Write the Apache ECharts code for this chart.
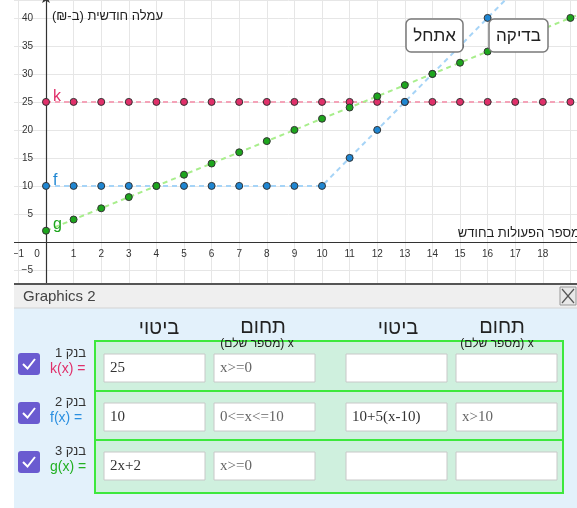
<!DOCTYPE html>
<html>
<head>
<meta charset="utf-8">
<script src="https://cdn.jsdelivr.net/npm/echarts@6/dist/echarts.min.js"></script>
<style>
  html, body { margin: 0; padding: 0; background: #fff; }
  #chart { width: 577px; height: 508px; }
</style>
</head>
<body>
<div id="chart"></div>
<script>
// values
const xs = [0, 1, 2, 3, 4, 5, 6, 7, 8, 9, 10, 11, 12, 13, 14, 15, 16, 17, 18, 19, 20]
const kVals = [25, 25, 25, 25, 25, 25, 25, 25, 25, 25, 25, 25, 25, 25, 25, 25, 25, 25, 25, 25, 25]
const fVals = [10, 10, 10, 10, 10, 10, 10, 10, 10, 10, 10, 15, 20, 25, 30, 35, 40, 45]
const gVals = [2, 4, 6, 8, 10, 12, 14, 16, 18, 20, 22, 24, 26, 28, 30, 32, 34, 36, 38, 40, 42]

const yTicks = [-5, 5, 10, 15, 20, 25, 30, 35, 40]
const xTicks = [-1, 0, 1, 2, 3, 4, 5, 6, 7, 8, 9, 10, 11, 12, 13, 14, 15, 16, 17, 18]

const rows = [
  { bank: 'בנק 1', fn: 'k(x) =', color: '#e0306a', cells: ['25', 'x>=0', '', ''] },
  { bank: 'בנק 2', fn: 'f(x) =', color: '#2a8fe0', cells: ['10', '0<=x<=10', '10+5(x-10)', 'x>10'] },
  { bank: 'בנק 3', fn: 'g(x) =', color: '#22b022', cells: ['2x+2', 'x>=0', '', ''] }
]

const RLE = '\u202B', PDF = '\u202C'
const SANS = '"Liberation Sans", "DejaVu Sans", sans-serif'
const SERIF = '"Liberation Serif", "DejaVu Serif", serif'

const isTick = (list, v) => list.some(t => Math.abs(t - Number(v)) < 1e-6)
const fmtNum = v => {
  const n = Math.round(Number(v))
  return n < 0 ? '−' + (-n) : String(n)
}

const toPairs = (vals, name, color, offY) => vals.map((v, i) => {
  const item = { value: [xs[i], v] }
  if (i === 0) {
    item.label = {
      show: true, formatter: name, position: 'right', distance: 3,
      offset: [0, offY], color: color, fontSize: 16, fontFamily: SANS
    }
  }
  return item
})

const fnSeries = (name, vals, lineColor, dotColor, offY) => ({
  type: 'line',
  name: name,
  data: toPairs(vals, name, dotColor, offY),
  symbol: 'circle',
  symbolSize: 7,
  lineStyle: { color: lineColor, width: 2, type: [5, 4] },
  itemStyle: { color: dotColor, borderColor: '#333', borderWidth: 1 },
  emphasis: { disabled: true },
  z: 3
})

// bottom panel built from plain graphic elements
const txt = (x, y, text, font, fill, align, z) => ({
  type: 'text', x: x, y: y, z: z || 110,
  style: { text: text, font: font, fill: fill, textAlign: align || 'left', align: align || 'left', textVerticalAlign: 'middle', verticalAlign: 'middle' }
})
const box = (x, y, w, h, fill, stroke, lw, r, z) => ({
  type: 'rect', z: z || 105,
  shape: { x: x, y: y, width: w, height: h, r: r || 0 },
  style: { fill: fill, stroke: stroke || null, lineWidth: lw || 0 }
})

const graphics = []
// white page margin left of the app
graphics.push(box(0, 0, 14, 508, '#fff', null, 0, 0, 100))
// buttons
graphics.push(box(406, 19, 57, 33, '#fff', '#7a7a7a', 1.5, 5, 100))
graphics.push(txt(434.5, 36, 'אתחל', '17px ' + SANS, '#222', 'center', 101))
graphics.push(box(489, 19, 59, 33, '#fff', '#7a7a7a', 1.5, 5, 100))
graphics.push(txt(518.5, 36, 'בדיקה', '17px ' + SANS, '#222', 'center', 101))
// axis titles
graphics.push(txt(52, 16, RLE + 'עמלה חודשית (ב-₪)' + PDF, '13px ' + SANS, '#222', 'left', 101))
graphics.push(txt(580, 233, 'מספר הפעולות בחודש', '13px ' + SANS, '#222', 'right', 101))

// Graphics 2 panel
graphics.push(box(14, 283, 563, 225, '#e3f1fb'))
graphics.push(box(14, 283, 563, 2, '#555'))
graphics.push(box(14, 285, 563, 23, '#efefef'))
graphics.push(box(14, 307.5, 563, 1, '#d4d4d4'))
graphics.push(txt(23, 297, 'Graphics 2', '15px ' + SANS, '#444'))
graphics.push(box(560, 287, 16, 18, '#e8e8e8', '#999', 1))
graphics.push({
  type: 'polyline', z: 110,
  shape: { points: [[562, 289], [574, 303]] }, style: { stroke: '#555', lineWidth: 1.2 }
})
graphics.push({
  type: 'polyline', z: 110,
  shape: { points: [[574, 289], [562, 303]] }, style: { stroke: '#555', lineWidth: 1.2 }
})

// column headers
const sub = RLE + 'x (מספר שלם)' + PDF
graphics.push(txt(159, 328, 'ביטוי', '20px ' + SANS, '#222', 'center'))
graphics.push(txt(263, 327, 'תחום', '20px ' + SANS, '#222', 'center'))
graphics.push(txt(398, 328, 'ביטוי', '20px ' + SANS, '#222', 'center'))
graphics.push(txt(502, 327, 'תחום', '20px ' + SANS, '#222', 'center'))

// green table
graphics.push(box(95, 341, 468, 152, '#cff0de', '#3de83d', 2, 0, 106))
graphics.push(box(95, 390, 468, 2, '#3de83d', null, 0, 0, 107))
graphics.push(box(95, 439, 468, 2, '#3de83d', null, 0, 0, 107))
graphics.push(txt(257, 344, sub, '12px ' + SANS, '#222', 'center', 112))
graphics.push(txt(497, 344, sub, '12px ' + SANS, '#222', 'center', 112))

const rowTop = [354, 403, 452]
const cellX = [104, 214, 346, 456]
rows.forEach((row, r) => {
  const y0 = rowTop[r]
  // checkbox
  graphics.push(box(18, y0 - 1, 22, 22, '#6a5bd0', null, 0, 3, 110))
  graphics.push({
    type: 'polyline', z: 111,
    shape: { points: [[23, y0 + 10], [27.5, y0 + 14.5], [35, y0 + 5]] },
    style: { stroke: '#fff', lineWidth: 2 }
  })
  graphics.push(txt(86, y0 - 1, RLE + row.bank + PDF, '13px ' + SANS, '#333', 'right'))
  graphics.push(txt(50, y0 + 15, row.fn, '14px ' + SANS, row.color, 'left'))
  // input cells
  row.cells.forEach((c, i) => {
    graphics.push(box(cellX[i], y0, 101, 28, '#fff', '#c8c8c8', 1, 0, 110))
    if (c) {
      graphics.push(txt(cellX[i] + 6, y0 + 14, c, '15px ' + SERIF, i % 2 ? '#666' : '#333', 'left', 111))
    }
  })
})

const chart = echarts.init(document.getElementById('chart'))
chart.setOption({
  animation: false,
  backgroundColor: '#fff',
  grid: { left: -9.2, top: 0, width: 587.9, height: 297.9, containLabel: false, outerBoundsMode: 'none' },
  xAxis: {
    type: 'value',
    position: 'bottom',
    offset: -56,
    min: -2,
    max: 19.3,
    interval: 1,
    axisLine: { onZero: false, lineStyle: { color: '#333', width: 1.2 } },
    axisTick: { show: false },
    splitLine: { show: true, lineStyle: { color: '#e6e6e6', width: 1 } },
    axisLabel: {
      hideOverlap: false,
      margin: 7,
      color: '#333',
      fontSize: 10,
      fontFamily: SANS,
      formatter: v => {
        if (!isTick(xTicks, v)) return ''
        if (Math.abs(Number(v)) < 1e-6) return '{z|0}'
        return fmtNum(v)
      },
      rich: { z: { padding: [0, 18, 0, 0], fontSize: 10, color: '#333' } }
    }
  },
  yAxis: {
    type: 'value',
    position: 'left',
    offset: -55.2,
    min: -10,
    max: 43.2,
    interval: 5,
    axisLine: {
      onZero: false, symbol: ['none', 'arrow'], symbolSize: [6, 9],
      symbolOffset: [0, 6], lineStyle: { color: '#333', width: 1.2 }
    },
    axisTick: { show: false },
    splitLine: { show: true, lineStyle: { color: '#e6e6e6', width: 1 } },
    axisLabel: {
      hideOverlap: false,
      margin: 13,
      color: '#333',
      fontSize: 10,
      fontFamily: SANS,
      formatter: v => isTick(yTicks, v) ? fmtNum(v) : ''
    }
  },
  series: [
    fnSeries('k', kVals, '#f4a3b8', '#e0306a', -5),
    fnSeries('f', fVals, '#a6d4f7', '#1f86d2', -5),
    fnSeries('g', gVals, '#a8ee8c', '#1da51d', -6)
  ],
  graphic: graphics
})
</script>
</body>
</html>
